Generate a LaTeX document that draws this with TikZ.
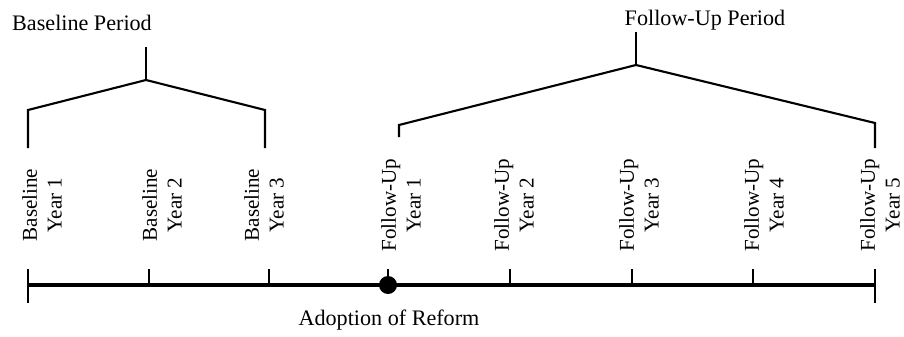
\documentclass[tikz,border=0pt]{standalone}
\usepackage{fontspec}
\setmainfont{Liberation Serif}
\begin{document}
\begin{tikzpicture}[font=\fontsize{12}{14}\selectfont,
        yearlabel/.style={rotate=90, align=center, inner sep=0pt},
        title/.style={font=\fontsize{12.6}{15}\selectfont},
        bracket/.style={line width=1.2pt},
        tickline/.style={line width=1.2pt}]
        \useasboundingbox (0,0) rectangle (18.08,6.72);

        %period titles
        \node[title] (basep) at (1.64,6.26) {Baseline Period};
        \node[title] (follp) at (14.1,6.32) {Follow-Up Period};

        %baseline bracket
        \coordinate (bstem) at (2.92,5.78);
        \coordinate (btop) at (2.92,5.12);
        \coordinate (bl1) at (0.56,4.52);
        \coordinate (bl2) at (0.56,3.76);
        \coordinate (br1) at (5.3,4.52);
        \coordinate (br2) at (5.3,3.76);
        \draw[bracket] (bstem) -- (btop);
        \draw[bracket] (bl2) -- (bl1) -- (btop) -- (br1) -- (br2);

        %follow-up bracket
        \coordinate (fstem) at (12.72,6.08);
        \coordinate (ftop) at (12.72,5.42);
        \coordinate (fl1) at (7.98,4.22);
        \coordinate (fl2) at (7.98,3.98);
        \coordinate (fr1) at (17.5,4.26);
        \coordinate (fr2) at (17.5,3.76);
        \draw[bracket] (fstem) -- (ftop);
        \draw[bracket] (fl2) -- (fl1) -- (ftop) -- (fr1) -- (fr2);

        %years
        \node[yearlabel] (b1) at (0.84,2.62) {Baseline\\Year 1};
        \node[yearlabel] (b2) at (3.24,2.62) {Baseline\\Year 2};
        \node[yearlabel] (b3) at (5.28,2.62) {Baseline\\Year 3};
        \node[yearlabel] (f1) at (8.02,2.62) {Follow-Up\\Year 1};
        \node[yearlabel] (f2) at (10.28,2.62) {Follow-Up\\Year 2};
        \node[yearlabel] (f3) at (12.78,2.62) {Follow-Up\\Year 3};
        \node[yearlabel] (f4) at (15.28,2.62) {Follow-Up\\Year 4};
        \node[yearlabel] (f5) at (17.6,2.62) {Follow-Up\\Year 5};

        %time line
        \coordinate (t1) at (0.56,1.02);
        \coordinate (t2) at (2.98,1.02);
        \coordinate (t3) at (5.38,1.02);
        \coordinate (t4) at (7.76,1.02);
        \coordinate (t5) at (10.2,1.02);
        \coordinate (t6) at (12.64,1.02);
        \coordinate (t7) at (15.06,1.02);
        \coordinate (t8) at (17.5,1.02);
        \draw[line width=2.4pt] (t1) -- (t8);
        \draw[tickline] ([yshift=-0.36cm]t1) -- ([yshift=0.32cm]t1);
        \draw[tickline] ([yshift=-0.36cm]t8) -- ([yshift=0.32cm]t8);
        \foreach \t in {t2,t3,t4,t5,t6,t7}
            \draw[tickline] (\t) -- ([yshift=0.32cm]\t);

        %adoption
        \node[circle, fill, inner sep=0pt, minimum size=0.36cm] (adopt) at (t4) {};
        \node[title] (adoptl) at (7.78,0.32) {Adoption of Reform};
    \end{tikzpicture}
\end{document}
